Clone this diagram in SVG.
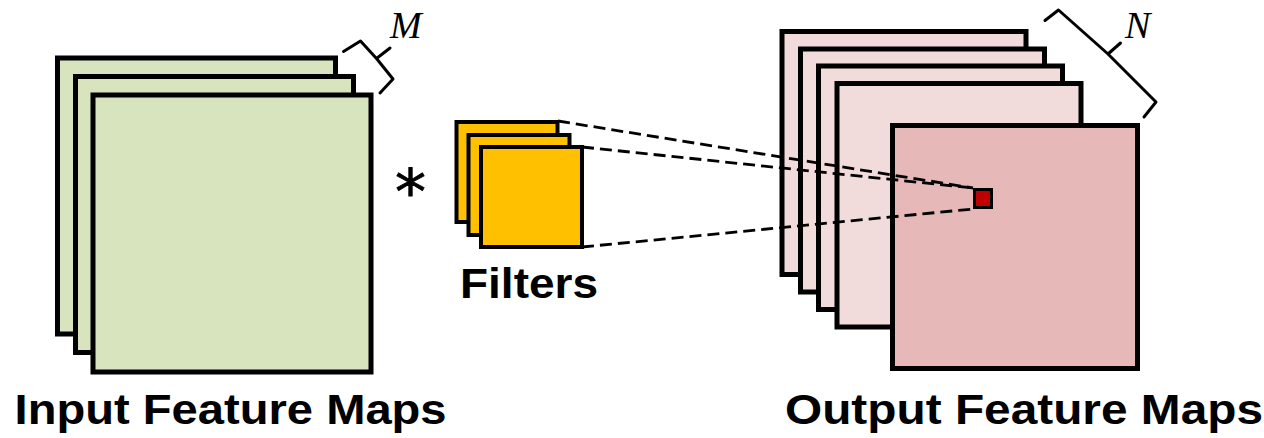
<svg xmlns="http://www.w3.org/2000/svg" width="1264" height="438" viewBox="0 0 1264 438">
<style>
.map{stroke:#000;stroke-width:5}
.in{fill:#D7E4BD}
.outb{fill:#F2DCDB}
.outf{fill:#E6B9B8}
.flt{fill:#FFC000;stroke:#000;stroke-width:4}
.dash{stroke:#000;stroke-width:2.8;stroke-dasharray:12 6;fill:none}
.brace{fill:none;stroke:#000;stroke-width:3;stroke-linejoin:round;stroke-linecap:round}
.lbl{font-family:"Liberation Sans",Arial,sans-serif;font-weight:bold;font-size:42px;fill:#000}
.math{font-family:"Liberation Serif","Times New Roman",serif;font-style:italic;font-size:38px;fill:#000}
</style>
<rect width="1264" height="438" fill="#fff"/>
<g id="input-maps">
<rect class="map in" x="57.5" y="58" width="278" height="276"/>
<rect class="map in" x="75.5" y="76.5" width="278" height="276"/>
<rect class="map in" x="93" y="95" width="278" height="277"/>
</g>
<g id="brace-m">
<path class="brace" d="M343.5,51.5 L360.5,41 L376.5,58.5 L390,48 M376.5,58.5 L393,79 L380,93"/>
<text class="math" x="390" y="38">M</text>
</g>
<g id="filters">
<rect class="flt" x="456.5" y="122" width="101" height="100"/>
<rect class="flt" x="468.5" y="135" width="101" height="100"/>
<rect class="flt" x="481" y="147" width="101" height="100"/>
</g>
<g id="conv-op">
<text x="410.5" y="214" text-anchor="middle" style="font-family:'DejaVu Sans',sans-serif;font-size:62px;stroke:#000;stroke-width:0.8">*</text>
</g>
<g id="output-maps">
<rect class="map outb" x="782" y="31.5" width="244" height="243"/>
<rect class="map outb" x="800.5" y="49" width="244" height="243"/>
<rect class="map outb" x="818.5" y="66" width="244" height="243.5"/>
<rect class="map outb" x="837" y="83.5" width="244" height="243.5"/>
<rect class="map outf" x="892.5" y="125.5" width="245" height="243"/>
</g>
<g id="brace-n">
<path class="brace" d="M1045,20.5 L1058.5,10 L1108,54 L1120.5,43 M1108,54 L1156,102 L1144,117"/>
<text class="math" x="1125" y="38">N</text>
</g>
<g id="connectors">
<line class="dash" x1="558" y1="121" x2="973" y2="188"/>
<line class="dash" x1="582" y1="147" x2="973" y2="188"/>
<line class="dash" x1="582" y1="247" x2="973" y2="209"/>
</g>
<g id="output-unit">
<rect x="974.5" y="189.5" width="17" height="18" fill="#C00000" stroke="#000" stroke-width="3"/>
</g>
<g id="labels">
<text class="lbl" x="14.6" y="424" textLength="432" lengthAdjust="spacingAndGlyphs">Input Feature Maps</text>
<text class="lbl" x="460" y="297.5" textLength="138" lengthAdjust="spacingAndGlyphs">Filters</text>
<text class="lbl" x="785" y="424" textLength="478" lengthAdjust="spacingAndGlyphs">Output Feature Maps</text>
</g>
</svg>
